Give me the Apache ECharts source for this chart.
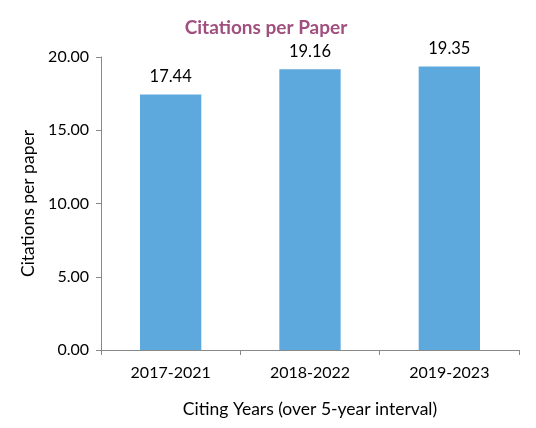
<!DOCTYPE html>
<html><head><meta charset="utf-8">
<script src="https://cdn.jsdelivr.net/npm/echarts@6/dist/echarts.min.js"></script>
<style>html,body{margin:0;padding:0;background:#fff}#c{width:536px;height:428px}</style>
</head><body><div id="c"></div>
<script>
var categories = ["2017-2021", "2018-2022", "2019-2023"];
var values = [17.44, 19.16, 19.35];
var yTicks = [0, 5, 10, 15, 20];
var FONT = "Lato, 'Open Sans', sans-serif";
var chart = echarts.init(document.getElementById('c'));
chart.setOption({
  animation: false,
  title: {
    text: "Citations per Paper", left: 261, top: 13, textAlign: 'center',
    textStyle: {color: '#A0507E', fontSize: 19, fontWeight: 'bold', fontFamily: FONT}
  },
  grid: {left: 101, right: 17, top: 57, bottom: 78},
  xAxis: {
    type: 'category', data: categories,
    name: "Citing Years (over 5-year interval)", nameLocation: 'middle', nameGap: 50,
    nameTextStyle: {color: '#000', fontSize: 17.5, fontFamily: FONT},
    axisLine: {lineStyle: {color: '#888', width: 1}},
    axisTick: {show: true, length: 5, lineStyle: {color: '#888'}},
    axisLabel: {color: '#000', fontSize: 16, fontFamily: FONT, margin: 15}
  },
  yAxis: {
    type: 'value', min: yTicks[0], max: yTicks[yTicks.length - 1], interval: 5,
    name: "Citations per paper", nameLocation: 'middle', nameGap: 64, nameRotate: 90,
    nameTextStyle: {color: '#000', fontSize: 17.5, fontFamily: FONT},
    axisLine: {show: true, lineStyle: {color: '#888', width: 1}},
    axisTick: {show: true, length: 5, lineStyle: {color: '#888'}},
    splitLine: {show: false},
    axisLabel: {color: '#000', fontSize: 16, fontFamily: FONT, margin: 12,
      formatter: function (v) { return v.toFixed(2); }}
  },
  series: [{
    type: 'bar', data: values, barWidth: '44%',
    itemStyle: {color: '#5DA9DD'},
    label: {show: true, position: 'top', distance: 9, color: '#000', fontSize: 16.5, fontFamily: FONT,
      formatter: function (p) { return p.value.toFixed(2); }}
  }]
});
</script></body></html>
